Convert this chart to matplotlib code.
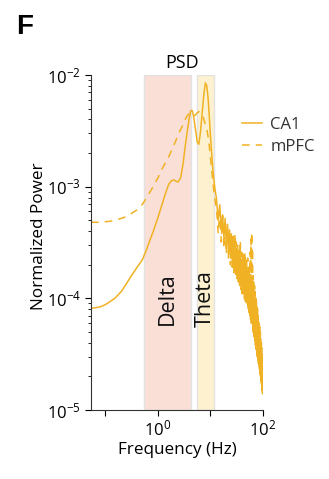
import matplotlib
matplotlib.use("Agg")
import matplotlib.pyplot as plt
import matplotlib.ticker as mticker
import numpy as np

plt.rcParams['font.family'] = ['Open Sans', 'DejaVu Sans']
plt.rcParams['mathtext.default'] = 'regular'

# smooth low-frequency part (Hz)
freq_low = [0.053, 0.06, 0.07, 0.08, 0.1, 0.12, 0.15, 0.2, 0.25, 0.3,
            0.4, 0.5, 0.6, 0.7, 0.8, 0.9, 1.0, 1.2, 1.4, 1.6,
            1.8, 2.0, 2.2, 2.4, 2.7, 3.0, 3.3, 3.6, 3.9, 4.2,
            4.5, 4.8, 5.2, 5.6, 6.0, 6.5, 7.0, 7.5, 8.0, 8.5,
            9.0, 9.5, 10, 10.5, 11, 11.5, 12, 12.5]

ca1_low = [8.2e-5, 8.2e-5, 8.3e-5, 8.4e-5, 8.8e-5, 9.3e-5, 1.0e-4, 1.15e-4, 1.35e-4, 1.55e-4,
           1.9e-4, 2.2e-4, 2.7e-4, 3.3e-4, 3.9e-4, 4.6e-4, 5.3e-4, 7.0e-4, 8.8e-4, 1.05e-3,
           1.13e-3, 1.15e-3, 1.12e-3, 1.1e-3, 1.2e-3, 1.6e-3, 2.3e-3, 3.1e-3, 4.0e-3, 4.8e-3,
           4.8e-3, 4.2e-3, 3.2e-3, 2.5e-3, 2.4e-3, 3.2e-3, 4.8e-3, 6.8e-3, 8.5e-3, 8.0e-3,
           6.2e-3, 4.2e-3, 2.8e-3, 2.0e-3, 1.5e-3, 1.2e-3, 1.0e-3, 8.8e-4]

mpfc_low = [4.8e-4, 4.8e-4, 4.8e-4, 4.8e-4, 4.85e-4, 4.9e-4, 5.0e-4, 5.2e-4, 5.4e-4, 5.7e-4,
            6.2e-4, 6.9e-4, 7.9e-4, 8.9e-4, 9.9e-4, 1.1e-3, 1.2e-3, 1.45e-3, 1.65e-3, 1.85e-3,
            2.1e-3, 2.35e-3, 2.6e-3, 2.9e-3, 3.25e-3, 3.6e-3, 4.0e-3, 4.3e-3, 4.5e-3, 4.6e-3,
            4.4e-3, 4.3e-3, 4.4e-3, 4.6e-3, 4.7e-3, 4.6e-3, 4.4e-3, 4.0e-3, 3.6e-3, 3.3e-3,
            2.8e-3, 2.3e-3, 1.8e-3, 1.45e-3, 1.15e-3, 9.5e-4, 8.0e-4, 7.0e-4]

# noisy high-frequency part, 13..100 Hz, in units of 1e-4
freq_high = list(range(13, 101))

ca1_high = [7.8, 5.0, 6.9, 4.2, 5.6, 3.5, 5.2, 3.0, 4.4, 2.6,
            4.1, 2.3, 3.6, 2.1, 3.3, 1.8, 3.0, 1.9, 2.8, 1.6,
            2.6, 1.5, 2.4, 1.3, 2.5, 1.4, 2.2, 1.2, 2.3, 1.1,
            2.0, 1.2, 1.9, 1.0, 2.1, 0.95, 1.8, 1.0, 1.7, 0.85,
            1.6, 0.8, 1.5, 0.7, 1.4, 0.75, 1.3, 0.6, 1.2, 0.6,
            1.1, 0.5, 1.05, 0.5, 0.9, 0.45, 0.85, 0.42, 0.75, 0.38,
            0.7, 0.35, 0.65, 0.32, 0.6, 0.3, 0.55, 0.28, 0.5, 0.26,
            0.45, 0.25, 0.42, 0.23, 0.38, 0.21, 0.35, 0.2, 0.32, 0.18,
            0.28, 0.17, 0.25, 0.15, 0.22, 0.14, 0.18, 0.15]

mpfc_high = [6.5, 3.8, 6.0, 3.2, 5.5, 2.8, 4.8, 2.5, 4.6, 2.3,
             4.2, 2.0, 3.9, 1.9, 3.6, 1.7, 3.8, 1.6, 3.2, 1.5,
             3.0, 1.4, 2.9, 1.3, 3.3, 1.2, 2.6, 1.1, 2.5, 1.15,
             2.4, 1.0, 2.6, 0.95, 2.2, 0.9, 2.1, 0.85, 2.3, 0.8,
             1.9, 0.75, 1.8, 0.7, 2.6, 0.65, 3.4, 0.7, 3.9, 0.6,
             2.8, 0.55, 1.6, 0.5, 1.4, 0.48, 1.3, 0.45, 1.15, 0.4,
             1.0, 0.38, 0.95, 0.35, 0.85, 0.33, 0.8, 0.3, 0.7, 0.28,
             0.65, 0.26, 0.6, 0.24, 0.55, 0.22, 0.5, 0.21, 0.45, 0.2,
             0.4, 0.19, 0.36, 0.18, 0.32, 0.17, 0.28, 0.2]

bands = [("Delta", 0.55, 4.2, "#fadfd7"), ("Theta", 5.5, 11.7, "#fdf1d0")]

freq = np.array(freq_low + freq_high)
ca1 = np.array(ca1_low + [v * 1e-4 for v in ca1_high])
mpfc = np.array(mpfc_low + [v * 1e-4 for v in mpfc_high])

line_color = "#f0b224"

fig = plt.figure(figsize=(3.29, 4.79), dpi=100)
ax = fig.add_axes([0.2766, 0.144, 0.5228, 0.6994])

# frequency bands
for name, lo, hi, col in bands:
    ax.axvspan(lo, hi, facecolor=col, edgecolor="#e2e2e2", linewidth=1.0, zorder=0)
    ax.text(np.sqrt(lo * hi), 1.0e-4, name, rotation=90, ha="center", va="center",
            fontsize=15.5, color="#111111")

ax.plot(freq, ca1, color=line_color, linewidth=1.1, label="CA1")
ax.plot(freq, mpfc, color=line_color, linewidth=1.1, linestyle=(0, (5, 4)), label="mPFC")

ax.set_xscale("log")
ax.set_yscale("log")
ax.set_xlim(0.053, 100)
ax.set_ylim(1e-5, 1e-2)

ax.set_xticks([1e-1, 1e0, 1e1, 1e2])
ax.set_xticklabels(["", "$10^{0}$", "", "$10^{2}$"])
ax.set_yticks([1e-5, 1e-4, 1e-3, 1e-2])
ax.set_yticklabels(["$10^{-5}$", "$10^{-4}$", "$10^{-3}$", "$10^{-2}$"])
ax.xaxis.set_minor_locator(mticker.LogLocator(base=10, subs=np.arange(2, 10)))
ax.yaxis.set_minor_locator(mticker.LogLocator(base=10, subs=np.arange(2, 10)))
ax.xaxis.set_minor_formatter(mticker.NullFormatter())
ax.yaxis.set_minor_formatter(mticker.NullFormatter())
ax.tick_params(which="major", length=4, width=0.8, labelsize=12, pad=3)
ax.tick_params(which="minor", length=2, width=0.6)

for side in ["top", "right"]:
    ax.spines[side].set_visible(False)
ax.spines["left"].set_color("#333333")
ax.spines["bottom"].set_color("#333333")

ax.set_xlabel("Frequency (Hz)", fontsize=12.3, labelpad=2)
ax.set_ylabel("Normalized Power", fontsize=12.3)
ax.yaxis.set_label_coords(-0.255, 0.52)
ax.set_title("PSD", fontsize=13, pad=5, x=0.53)

ax.legend(loc="upper left", bbox_to_anchor=(0.878, 0.876), frameon=False, fontsize=12,
          handlelength=1.2, handletextpad=0.5, labelspacing=0.38, borderaxespad=0,
          borderpad=0, labelcolor="#333333")

fig.text(0.048, 0.97, "F", fontsize=20, fontweight="bold", family="Liberation Sans",
         ha="left", va="top")

fig.savefig("out.png", dpi=100)
